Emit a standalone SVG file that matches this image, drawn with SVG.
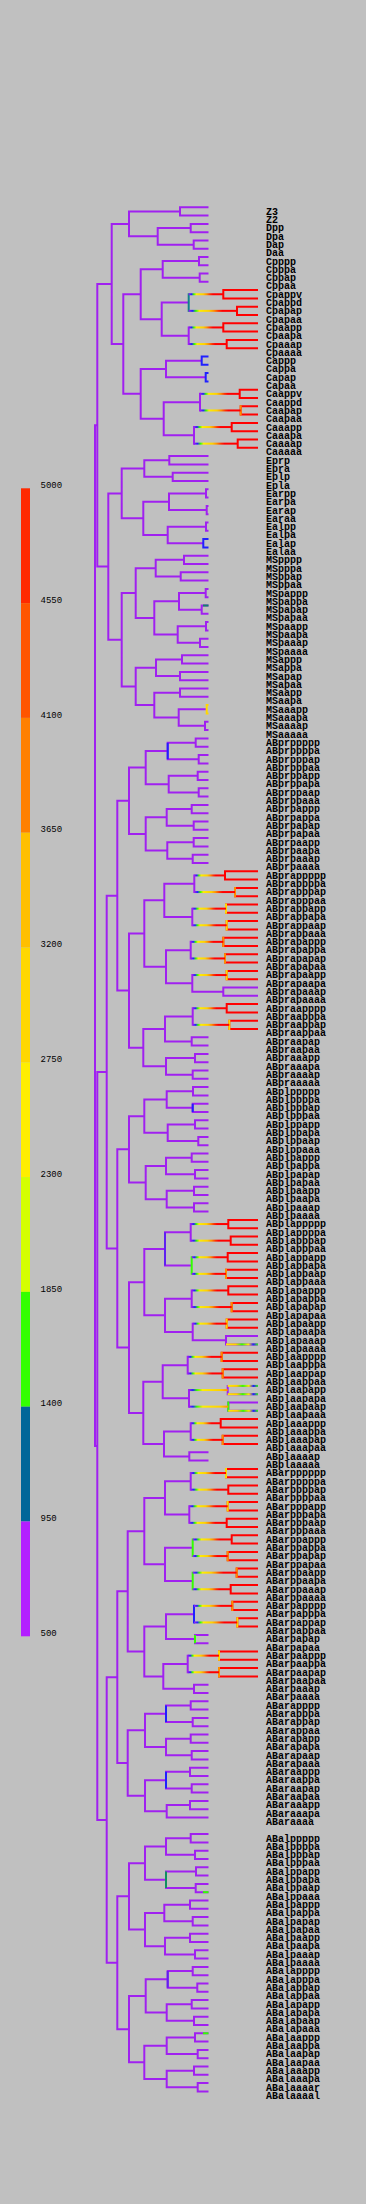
<svg xmlns="http://www.w3.org/2000/svg" width="366" height="2204" viewBox="0 0 366 2204">
<style>
.c{fill:none;stroke-width:2;stroke-linejoin:miter}
.p{stroke:#a020f0}.r{stroke:#ff0000}.o{stroke:#ff8c00}.y{stroke:#ffd700}.g{stroke:#33ff00}.b{stroke:#2020ff}.t{stroke:#10808c}.v{stroke:#6020f0}.tg{stroke:#109060}
.l{font-family:"Liberation Mono",monospace;font-size:10px;font-weight:bold;fill:#000}
.k{font-family:"Liberation Mono",monospace;font-size:9px;fill:#000}
</style>
<defs>
<linearGradient id="gA" x1="0" y1="0" x2="1" y2="0">
<stop offset="0" stop-color="#a020f0"/><stop offset="0.08" stop-color="#2020ff"/><stop offset="0.15" stop-color="#33ff00"/><stop offset="0.22" stop-color="#ffee00"/><stop offset="0.42" stop-color="#ffd000"/><stop offset="0.52" stop-color="#ff9000"/><stop offset="0.62" stop-color="#ff3000"/><stop offset="0.7" stop-color="#ff0000"/><stop offset="1" stop-color="#ff0000"/>
</linearGradient>
<linearGradient id="gE" x1="0" y1="0" x2="1" y2="0">
<stop offset="0" stop-color="#a020f0"/><stop offset="0.1" stop-color="#2020ff"/><stop offset="0.2" stop-color="#33ff00"/><stop offset="0.35" stop-color="#ffee00"/><stop offset="0.8" stop-color="#ffd000"/><stop offset="1" stop-color="#ff9000"/>
</linearGradient>
<linearGradient id="gC" x1="0" y1="0" x2="1" y2="0">
<stop offset="0" stop-color="#ffee00"/><stop offset="0.3" stop-color="#ffd000"/><stop offset="0.5" stop-color="#33ff00"/><stop offset="0.7" stop-color="#ffee00"/><stop offset="0.85" stop-color="#2020ff"/><stop offset="1" stop-color="#33ff00"/>
</linearGradient>
</defs>
<rect width="366" height="2204" fill="#c0c0c0"/>
<g id="legend">
<rect x="21" y="488.3" width="9" height="114.8" fill="#ff2a00"/>
<rect x="21" y="603.1" width="9" height="114.8" fill="#ff5500"/>
<rect x="21" y="717.9" width="9" height="114.8" fill="#ff8000"/>
<rect x="21" y="832.7" width="9" height="114.8" fill="#ffbf00"/>
<rect x="21" y="947.5" width="9" height="114.8" fill="#ffd700"/>
<rect x="21" y="1062.3" width="9" height="114.8" fill="#ffee00"/>
<rect x="21" y="1177.1" width="9" height="114.8" fill="#d4ff00"/>
<rect x="21" y="1291.9" width="9" height="114.8" fill="#33ff00"/>
<rect x="21" y="1406.7" width="9" height="114.8" fill="#006699"/>
<rect x="21" y="1521.5" width="9" height="114.8" fill="#b31fff"/>
<text class="k" x="40.5" y="487.9">5000</text>
<text class="k" x="40.5" y="602.7">4550</text>
<text class="k" x="40.5" y="717.5">4100</text>
<text class="k" x="40.5" y="832.3">3650</text>
<text class="k" x="40.5" y="947.1">3200</text>
<text class="k" x="40.5" y="1061.9">2750</text>
<text class="k" x="40.5" y="1176.7">2300</text>
<text class="k" x="40.5" y="1291.5">1850</text>
<text class="k" x="40.5" y="1406.3">1400</text>
<text class="k" x="40.5" y="1521.1">950</text>
<text class="k" x="40.5" y="1635.9">500</text>
</g>
<g id="connectors">
<g class="c p">
<path d="M208.5 207.3H180V215.6H208.5M208.5 223.9H190.7V232.2H208.5M208.5 240.5H193.7V248.8H208.5M190.7 228.05H157.7V244.65H193.7M180 211.45H129V236.35H157.7"/>
<path d="M208.5 256.9H199V265.2H208.5M208.5 273.5H199.7V281.8H208.5M199 261.05H162.7V277.65H199.7"/>
<path d="M188.7 326.45V345.05M188.7 302.55H161.7V335.75H188.7M162.7 269.35H140.7V319.15H161.7"/>
<path d="M201.7 360.65H166V377.25H205.7M200 392.85V411.45M194 426.05V444.65M200 402.15H163.7V435.35H194M166 368.95H140.7V418.75H163.7M140.7 294.25H123.3V393.85H140.7M129 223.9H111.7V344.05H123.3"/>
<path d="M208.5 456.1H169.3V464.4H208.5M208.5 472.7H172.7V481H208.5M169.3 460.25H144.3V476.85H172.7M208.5 489.3H206V497.6H208.5M208.5 505.9H206.7V514.2H208.5M206 493.45H169V510.05H206.7M208.5 522.5H206V530.8H208.5M206 526.65H167.7V543.25H203.3M169 501.75H143.3V534.95H167.7M144.3 468.55H121.7V518.35H143.3"/>
<path d="M208.5 555.7H184V564H208.5M208.5 572.3H180.7V580.6H208.5M184 559.85H155.7V576.45H180.7M208.5 588.9H205.7V597.2H208.5M208.5 605.5H201.7V613.8H208.5M205.7 593.05H179V609.65H201.7M208.5 622.1H206V630.4H208.5M208.5 638.7H200V647H208.5M206 626.25H177.7V642.85H200M179 601.35H154.3V634.55H177.7M155.7 568.15H135.7V617.95H154.3"/>
<path d="M208.5 655.3H182V663.6H208.5M208.5 671.9H180V680.2H208.5M182 659.45H156V676.05H180M208.5 688.5H180V696.8H208.5M208.5 721.7H205V730H208.5M206.7 709.25H178.7V725.85H205M180 692.65H154.3V717.55H178.7M156 667.75H135.7V705.1H154.3M135.7 593.05H121.7V686.43H135.7M121.7 493.45H108.3V639.74H121.7M111.7 284H97.3V566.6H108.3"/>
<path d="M208.5 738.5H195.7V746.8H208.5M208.5 755.1H198.7V763.4H208.5M195.7 742.65H167.7V759.25H198.7M208.5 771.7H197.7V780H208.5M208.5 788.3H198.7V796.6H208.5M197.7 775.85H168.7V792.45H198.7M167.7 750.95H145.7V784.15H168.7"/>
<path d="M208.5 804.9H191.7V813.2H208.5M208.5 821.5H193.7V829.8H208.5M191.7 809.05H166.7V825.65H193.7M208.5 838.1H193.7V846.4H208.5M208.5 854.7H192.7V863H208.5M193.7 842.25H167.3V858.85H192.7M166.7 817.35H145.7V850.55H167.3M145.7 767.55H129V833.95H145.7"/>
<path d="M194.3 874.45V893.05M192.3 907.65V926.25M194.3 883.75H164.3V916.95H192.3M190.7 940.85V959.45M192.3 974.05V992.65M192.3 991.65H223.3M258 987.5H223.3V995.8H258M190.7 950.15H166V983.35H192.3M164.3 900.35H144.3V966.75H166"/>
<path d="M192.7 1007.25V1025.85M208.5 1037.3H191.7V1045.6H208.5M192.7 1016.55H165V1041.45H191.7M208.5 1053.9H195V1062.2H208.5M208.5 1070.5H192.7V1078.8H208.5M195 1058.05H166V1074.65H192.7M165 1029H143.3V1066.35H166M144.3 933.55H129V1047.68H143.3M129 800.75H117.3V990.6H129"/>
<path d="M208.5 1087.1H193V1095.4H208.5M208.5 1103.7H192.7V1112H208.5M193 1091.25H166.7V1107.85H192.7M208.5 1120.3H195V1128.6H208.5M208.5 1136.9H198.3V1145.2H208.5M195 1124.45H167.7V1141.05H198.3M166.7 1099.55H144.3V1132.75H167.7"/>
<path d="M208.5 1153.5H191.7V1161.8H208.5M208.5 1170.1H195V1178.4H208.5M191.7 1157.65H166V1174.25H195M208.5 1186.7H194V1195H208.5M208.5 1203.3H194V1211.6H208.5M194 1190.85H166.7V1207.45H194M166 1165.95H145.7V1199.15H166.7M144.3 1116.15H129V1182.55H145.7"/>
<path d="M190.7 1223.05V1241.65M190.7 1232.35H165V1265.55H191.7M191.7 1289.45V1308.05M192.7 1322.65V1341.25M192.7 1340.25H226M258 1336.1H226V1344.4H258M191.7 1298.75H165V1331.95H192.7M165 1248.95H144.3V1315.35H165"/>
<path d="M187.7 1355.85V1374.45M189 1389.05V1407.65M258 1385.9H227.7V1394.2H258M258 1402.5H228.3V1410.8H258M187.7 1365.15H162.7V1398.35H189M190.7 1422.25V1440.85M208.5 1452.3H189.3V1460.6H208.5M190.7 1431.55H164V1456.45H189.3M162.7 1381.75H143.3V1444H164M144.3 1282.15H129V1412.88H143.3M129 1149.35H117.3V1347.5H129M117.3 895.68H106.7V1248.43H117.3"/>
<path d="M190.7 1472.05V1490.65M189.3 1505.25V1523.85M190.7 1481.35H165V1514.55H189.3M192.7 1547.75H165V1580.95H192.7M165 1497.95H144.3V1564.35H165"/>
<path d="M187.7 1654.65V1673.25M208.5 1634.9H195V1643.2H208.5M194 1614.15H166V1639.05H195M208.5 1684.7H194V1693H208.5M187.7 1663.95H163.3V1688.85H194M166 1626.6H144.3V1676.4H163.3M144.3 1531.15H127.7V1651.5H144.3"/>
<path d="M208.5 1701.3H190.7V1709.6H208.5M208.5 1717.9H192.7V1726.2H208.5M190.7 1705.45H166V1722.05H192.7M208.5 1734.5H190.7V1742.8H208.5M208.5 1751.1H191.7V1759.4H208.5M190.7 1738.65H166V1755.25H191.7M166 1713.75H145V1746.95H166"/>
<path d="M208.5 1767.7H190V1776H208.5M208.5 1784.3H191.7V1792.6H208.5M190 1771.85H166V1788.45H191.7M208.5 1800.9H190V1809.2H208.5M190 1805.05H166.7V1817.5H208.5M166 1780.15H145V1811.28H166.7M145 1730.35H127.7V1795.71H145M127.7 1591.33H117.3V1763.03H127.7"/>
<path d="M208.5 1834.1H190.7V1842.4H208.5M208.5 1850.7H195V1859H208.5M190.7 1838.25H166V1854.85H195M208.5 1867.3H196V1875.6H208.5M208.5 1883.9H195.7V1892.2H208.5M196 1871.45H166V1888.05H195.7M166 1846.55H145V1879.75H166"/>
<path d="M208.5 1900.5H190V1908.8H208.5M208.5 1917.1H192.7V1925.4H208.5M190 1904.65H164.3V1921.25H192.7M208.5 1933.7H190V1942H208.5M208.5 1950.3H195V1958.6H208.5M190 1937.85H165V1954.45H195M164.3 1912.95H145V1946.15H165M145 1863.15H129V1929.55H145"/>
<path d="M208.5 1966.9H192.7V1975.2H208.5M208.5 1983.5H197.3V1991.8H208.5M192.7 1971.05H167.7V1987.65H197.3M208.5 2000.1H191.7V2008.4H208.5M208.5 2016.7H194V2025H208.5M191.7 2004.25H166.7V2020.85H194M167.7 1979.35H145.7V2012.55H166.7"/>
<path d="M208.5 2033.3H195V2041.6H208.5M208.5 2049.9H197.7V2058.2H208.5M195 2037.45H166.7V2054.05H197.7M208.5 2066.5H194V2074.8H208.5M208.5 2083.1H197.7V2091.4H208.5M194 2070.65H166.7V2087.25H197.7M166.7 2045.75H144.3V2078.95H166.7M145.7 1995.95H129V2062.35H144.3M129 1896.35H117.3V2029.15H129"/>
<path d="M117.3 1677.18H106.7V1962.75H117.3M106.7 1072.06H97.3V1819.97H106.7M97.3 425.3H95V1446H97.3"/>
</g>
<g class="c r">
<path d="M258 290.1H223.3V298.4H258M258 306.7H237V315H258M258 323.3H223.3V331.6H258M258 339.9H226.7V348.2H258"/>
<path d="M258 389.7H239.7V398H258M258 406.3H240.7V414.6H258M258 422.9H231.7V431.2H258M258 439.5H237.7V447.8H258"/>
<path d="M258 871.3H225V879.6H258M258 887.9H235V896.2H258M258 904.5H226V912.8H258M258 921.1H226.7V929.4H258M258 937.7H223.3V946H258M258 954.3H225V962.6H258M258 970.9H226.7V979.2H258M258 1004.1H226.7V1012.4H258M258 1020.7H229.3V1029H258"/>
<path d="M258 1219.9H228.3V1228.2H258M258 1236.5H230.7V1244.8H258M258 1253.1H227.7V1261.4H258M258 1269.7H226V1278H258M258 1286.3H228.3V1294.6H258M258 1302.9H231.7V1311.2H258M258 1319.5H226.7V1327.8H258M258 1352.7H221.7V1361H258M258 1369.3H222.7V1377.6H258M258 1419.1H220.7V1427.4H258M258 1435.7H222.7V1444H258"/>
<path d="M258 1468.9H226V1477.2H258M258 1485.5H228.3V1493.8H258M258 1502.1H227.7V1510.4H258M258 1518.7H226.7V1527H258M258 1535.3H231.7V1543.6H258M258 1551.9H227.7V1560.2H258M258 1568.5H236.7V1576.8H258M258 1585.1H230.7V1593.4H258M258 1601.7H232.3V1610H258M258 1618.3H237.3V1626.6H258M258 1651.5H219V1659.8H258M258 1668.1H219V1676.4H258"/>
</g>
<g class="c o">
<path d="M240.7 405.3V415.6M235 886.9V897.2M223.3 936.7V947M225 953.3V963.6M226 1268.7V1279M231.7 1301.9V1312.2M221.7 1351.7V1362M222.7 1368.3V1378.6M222.7 1434.7V1445M227.7 1550.9V1561.2M236.7 1567.5V1577.8M232.3 1600.7V1611M219 1667.1V1677.4"/>
</g>
<g class="c y">
<path d="M226 903.5V913.8M226.7 920.1V930.4M226.7 969.9V980.2M229.3 1019.7V1030M226.7 1318.5V1328.8M226 1467.9V1478.2M227.7 1501.1V1511.4M237.3 1617.3V1627.6M219 1650.5V1660.8M208.5 705.1H206.7V713.4H208.5"/>
</g>
<g class="c b">
<path d="M208.5 356.5H201.7V364.8H208.5M208.5 373.1H205.7V381.4H208.5M208.5 539.1H203.3V547.4H208.5M167.7 742.65V759.25M192.7 1103.7V1112M194 1604.85V1623.45M166 1705.45V1722.05M166 1771.85V1788.45"/>
</g>
<path class="c t" d="M188.7 293.25V311.85"/>
<path class="c g" d="M191.7 1256.25V1274.85M228.3 1401.5V1411.8M192.7 1538.45V1557.05M192.7 1571.65V1590.25M195 1634.9V1643.2"/>
<path class="c v" d="M165 1232.35V1265.55M167.7 1971.05V1987.65"/>
<path class="c tg" d="M166 1871.45V1888.05"/>
<g id="grad-segments">
<rect x="188.7" y="293.25" width="34.6" height="2" fill="url(#gA)"/>
<rect x="188.7" y="309.85" width="48.3" height="2" fill="url(#gA)"/>
<rect x="188.7" y="326.45" width="34.6" height="2" fill="url(#gA)"/>
<rect x="188.7" y="343.05" width="38" height="2" fill="url(#gA)"/>
<rect x="200" y="392.85" width="39.7" height="2" fill="url(#gA)"/>
<rect x="200" y="409.45" width="40.7" height="2" fill="url(#gA)"/>
<rect x="194" y="426.05" width="37.7" height="2" fill="url(#gA)"/>
<rect x="194" y="442.65" width="43.7" height="2" fill="url(#gA)"/>
<rect x="194.3" y="874.45" width="30.7" height="2" fill="url(#gA)"/>
<rect x="194.3" y="891.05" width="40.7" height="2" fill="url(#gA)"/>
<rect x="192.3" y="907.65" width="33.7" height="2" fill="url(#gA)"/>
<rect x="192.3" y="924.25" width="34.4" height="2" fill="url(#gA)"/>
<rect x="190.7" y="940.85" width="32.6" height="2" fill="url(#gA)"/>
<rect x="190.7" y="957.45" width="34.3" height="2" fill="url(#gA)"/>
<rect x="192.3" y="974.05" width="34.4" height="2" fill="url(#gA)"/>
<rect x="192.7" y="1007.25" width="34" height="2" fill="url(#gA)"/>
<rect x="192.7" y="1023.85" width="36.6" height="2" fill="url(#gA)"/>
<rect x="190.7" y="1223.05" width="37.6" height="2" fill="url(#gA)"/>
<rect x="190.7" y="1239.65" width="40" height="2" fill="url(#gA)"/>
<rect x="191.7" y="1256.25" width="36" height="2" fill="url(#gA)"/>
<rect x="191.7" y="1272.85" width="34.3" height="2" fill="url(#gA)"/>
<rect x="191.7" y="1289.45" width="36.6" height="2" fill="url(#gA)"/>
<rect x="191.7" y="1306.05" width="40" height="2" fill="url(#gA)"/>
<rect x="192.7" y="1322.65" width="34" height="2" fill="url(#gA)"/>
<rect x="226" y="1343.4" width="32" height="2" fill="url(#gC)"/>
<rect x="187.7" y="1355.85" width="34" height="2" fill="url(#gA)"/>
<rect x="187.7" y="1372.45" width="35" height="2" fill="url(#gA)"/>
<rect x="189" y="1389.05" width="38.7" height="2" fill="url(#gE)"/>
<rect x="189" y="1405.65" width="39.3" height="2" fill="url(#gE)"/>
<rect x="227.7" y="1384.9" width="30.3" height="2" fill="url(#gC)"/>
<rect x="227.7" y="1393.2" width="30.3" height="2" fill="url(#gC)"/>
<rect x="228.3" y="1409.8" width="29.7" height="2" fill="url(#gC)"/>
<rect x="190.7" y="1422.25" width="30" height="2" fill="url(#gA)"/>
<rect x="190.7" y="1438.85" width="32" height="2" fill="url(#gA)"/>
<rect x="190.7" y="1472.05" width="35.3" height="2" fill="url(#gA)"/>
<rect x="190.7" y="1488.65" width="37.6" height="2" fill="url(#gA)"/>
<rect x="189.3" y="1505.25" width="38.4" height="2" fill="url(#gA)"/>
<rect x="189.3" y="1521.85" width="37.4" height="2" fill="url(#gA)"/>
<rect x="192.7" y="1538.45" width="39" height="2" fill="url(#gA)"/>
<rect x="192.7" y="1555.05" width="35" height="2" fill="url(#gA)"/>
<rect x="192.7" y="1571.65" width="44" height="2" fill="url(#gA)"/>
<rect x="192.7" y="1588.25" width="38" height="2" fill="url(#gA)"/>
<rect x="194" y="1604.85" width="38.3" height="2" fill="url(#gA)"/>
<rect x="194" y="1621.45" width="43.3" height="2" fill="url(#gA)"/>
<rect x="187.7" y="1654.65" width="31.3" height="2" fill="url(#gA)"/>
<rect x="187.7" y="1671.25" width="31.3" height="2" fill="url(#gA)"/>
<rect x="203" y="604.5" width="5.5" height="2" fill="#10806c"/>
<rect x="203" y="1891.2" width="5.5" height="2" fill="#33ff00"/>
<rect x="203" y="2032.3" width="5.5" height="2" fill="#33ff00"/>
</g>
</g>
<g id="labels" class="l">
<g id="n-Z3"><text x="266" y="214.7">Z3</text></g>
<g id="n-Z2"><text x="266" y="223">Z2</text></g>
<g id="n-Dpp"><text x="266" y="231.3">Dpp</text></g>
<g id="n-Dpa"><text x="266" y="239.6">Dpa</text></g>
<g id="n-Dap"><text x="266" y="247.9">Dap</text></g>
<g id="n-Daa"><text x="266" y="256.2">Daa</text></g>
<g id="n-Cpppp"><text x="266" y="264.5">Cpppp</text></g>
<g id="n-Cpppa"><text x="266" y="272.8">Cpppa</text></g>
<g id="n-Cppap"><text x="266" y="281.1">Cppap</text></g>
<g id="n-Cppaa"><text x="266" y="289.4">Cppaa</text></g>
<g id="n-Cpappv"><text x="266" y="297.7">Cpappv</text></g>
<g id="n-Cpappd"><text x="266" y="306">Cpappd</text></g>
<g id="n-Cpapap"><text x="266" y="314.3">Cpapap</text></g>
<g id="n-Cpapaa"><text x="266" y="322.6">Cpapaa</text></g>
<g id="n-Cpaapp"><text x="266" y="330.9">Cpaapp</text></g>
<g id="n-Cpaapa"><text x="266" y="339.2">Cpaapa</text></g>
<g id="n-Cpaaap"><text x="266" y="347.5">Cpaaap</text></g>
<g id="n-Cpaaaa"><text x="266" y="355.8">Cpaaaa</text></g>
<g id="n-Cappp"><text x="266" y="364.1">Cappp</text></g>
<g id="n-Cappa"><text x="266" y="372.4">Cappa</text></g>
<g id="n-Capap"><text x="266" y="380.7">Capap</text></g>
<g id="n-Capaa"><text x="266" y="389">Capaa</text></g>
<g id="n-Caappv"><text x="266" y="397.3">Caappv</text></g>
<g id="n-Caappd"><text x="266" y="405.6">Caappd</text></g>
<g id="n-Caapap"><text x="266" y="413.9">Caapap</text></g>
<g id="n-Caapaa"><text x="266" y="422.2">Caapaa</text></g>
<g id="n-Caaapp"><text x="266" y="430.5">Caaapp</text></g>
<g id="n-Caaapa"><text x="266" y="438.8">Caaapa</text></g>
<g id="n-Caaaap"><text x="266" y="447.1">Caaaap</text></g>
<g id="n-Caaaaa"><text x="266" y="455.4">Caaaaa</text></g>
<g id="n-Eprp"><text x="266" y="463.7">Eprp</text></g>
<g id="n-Epra"><text x="266" y="472">Epra</text></g>
<g id="n-Eplp"><text x="266" y="480.3">Eplp</text></g>
<g id="n-Epla"><text x="266" y="488.6">Epla</text></g>
<g id="n-Earpp"><text x="266" y="496.9">Earpp</text></g>
<g id="n-Earpa"><text x="266" y="505.2">Earpa</text></g>
<g id="n-Earap"><text x="266" y="513.5">Earap</text></g>
<g id="n-Earaa"><text x="266" y="521.8">Earaa</text></g>
<g id="n-Ealpp"><text x="266" y="530.1">Ealpp</text></g>
<g id="n-Ealpa"><text x="266" y="538.4">Ealpa</text></g>
<g id="n-Ealap"><text x="266" y="546.7">Ealap</text></g>
<g id="n-Ealaa"><text x="266" y="555">Ealaa</text></g>
<g id="n-MSpppp"><text x="266" y="563.3">MSpppp</text></g>
<g id="n-MSpppa"><text x="266" y="571.6">MSpppa</text></g>
<g id="n-MSppap"><text x="266" y="579.9">MSppap</text></g>
<g id="n-MSppaa"><text x="266" y="588.2">MSppaa</text></g>
<g id="n-MSpappp"><text x="266" y="596.5">MSpappp</text></g>
<g id="n-MSpappa"><text x="266" y="604.8">MSpappa</text></g>
<g id="n-MSpapap"><text x="266" y="613.1">MSpapap</text></g>
<g id="n-MSpapaa"><text x="266" y="621.4">MSpapaa</text></g>
<g id="n-MSpaapp"><text x="266" y="629.7">MSpaapp</text></g>
<g id="n-MSpaapa"><text x="266" y="638">MSpaapa</text></g>
<g id="n-MSpaaap"><text x="266" y="646.3">MSpaaap</text></g>
<g id="n-MSpaaaa"><text x="266" y="654.6">MSpaaaa</text></g>
<g id="n-MSappp"><text x="266" y="662.9">MSappp</text></g>
<g id="n-MSappa"><text x="266" y="671.2">MSappa</text></g>
<g id="n-MSapap"><text x="266" y="679.5">MSapap</text></g>
<g id="n-MSapaa"><text x="266" y="687.8">MSapaa</text></g>
<g id="n-MSaapp"><text x="266" y="696.1">MSaapp</text></g>
<g id="n-MSaapa"><text x="266" y="704.4">MSaapa</text></g>
<g id="n-MSaaapp"><text x="266" y="712.7">MSaaapp</text></g>
<g id="n-MSaaapa"><text x="266" y="721">MSaaapa</text></g>
<g id="n-MSaaaap"><text x="266" y="729.3">MSaaaap</text></g>
<g id="n-MSaaaaa"><text x="266" y="737.6">MSaaaaa</text></g>
<g id="n-ABprppppp"><text x="266" y="745.9">ABprppppp</text></g>
<g id="n-ABprppppa"><text x="266" y="754.2">ABprppppa</text></g>
<g id="n-ABprpppap"><text x="266" y="762.5">ABprpppap</text></g>
<g id="n-ABprpppaa"><text x="266" y="770.8">ABprpppaa</text></g>
<g id="n-ABprppapp"><text x="266" y="779.1">ABprppapp</text></g>
<g id="n-ABprppapa"><text x="266" y="787.4">ABprppapa</text></g>
<g id="n-ABprppaap"><text x="266" y="795.7">ABprppaap</text></g>
<g id="n-ABprppaaa"><text x="266" y="804">ABprppaaa</text></g>
<g id="n-ABprpappp"><text x="266" y="812.3">ABprpappp</text></g>
<g id="n-ABprpappa"><text x="266" y="820.6">ABprpappa</text></g>
<g id="n-ABprpapap"><text x="266" y="828.9">ABprpapap</text></g>
<g id="n-ABprpapaa"><text x="266" y="837.2">ABprpapaa</text></g>
<g id="n-ABprpaapp"><text x="266" y="845.5">ABprpaapp</text></g>
<g id="n-ABprpaapa"><text x="266" y="853.8">ABprpaapa</text></g>
<g id="n-ABprpaaap"><text x="266" y="862.1">ABprpaaap</text></g>
<g id="n-ABprpaaaa"><text x="266" y="870.4">ABprpaaaa</text></g>
<g id="n-ABprappppp"><text x="266" y="878.7">ABprappppp</text></g>
<g id="n-ABprappppa"><text x="266" y="887">ABprappppa</text></g>
<g id="n-ABprapppap"><text x="266" y="895.3">ABprapppap</text></g>
<g id="n-ABprapppaa"><text x="266" y="903.6">ABprapppaa</text></g>
<g id="n-ABprappapp"><text x="266" y="911.9">ABprappapp</text></g>
<g id="n-ABprappapa"><text x="266" y="920.2">ABprappapa</text></g>
<g id="n-ABprappaap"><text x="266" y="928.5">ABprappaap</text></g>
<g id="n-ABprappaaa"><text x="266" y="936.8">ABprappaaa</text></g>
<g id="n-ABprapappp"><text x="266" y="945.1">ABprapappp</text></g>
<g id="n-ABprapappa"><text x="266" y="953.4">ABprapappa</text></g>
<g id="n-ABprapapap"><text x="266" y="961.7">ABprapapap</text></g>
<g id="n-ABprapapaa"><text x="266" y="970">ABprapapaa</text></g>
<g id="n-ABprapaapp"><text x="266" y="978.3">ABprapaapp</text></g>
<g id="n-ABprapaapa"><text x="266" y="986.6">ABprapaapa</text></g>
<g id="n-ABprapaaap"><text x="266" y="994.9">ABprapaaap</text></g>
<g id="n-ABprapaaaa"><text x="266" y="1003.2">ABprapaaaa</text></g>
<g id="n-ABpraapppp"><text x="266" y="1011.5">ABpraapppp</text></g>
<g id="n-ABpraapppa"><text x="266" y="1019.8">ABpraapppa</text></g>
<g id="n-ABpraappap"><text x="266" y="1028.1">ABpraappap</text></g>
<g id="n-ABpraappaa"><text x="266" y="1036.4">ABpraappaa</text></g>
<g id="n-ABpraapap"><text x="266" y="1044.7">ABpraapap</text></g>
<g id="n-ABpraapaa"><text x="266" y="1053">ABpraapaa</text></g>
<g id="n-ABpraaapp"><text x="266" y="1061.3">ABpraaapp</text></g>
<g id="n-ABpraaapa"><text x="266" y="1069.6">ABpraaapa</text></g>
<g id="n-ABpraaaap"><text x="266" y="1077.9">ABpraaaap</text></g>
<g id="n-ABpraaaaa"><text x="266" y="1086.2">ABpraaaaa</text></g>
<g id="n-ABplppppp"><text x="266" y="1094.5">ABplppppp</text></g>
<g id="n-ABplppppa"><text x="266" y="1102.8">ABplppppa</text></g>
<g id="n-ABplpppap"><text x="266" y="1111.1">ABplpppap</text></g>
<g id="n-ABplpppaa"><text x="266" y="1119.4">ABplpppaa</text></g>
<g id="n-ABplppapp"><text x="266" y="1127.7">ABplppapp</text></g>
<g id="n-ABplppapa"><text x="266" y="1136">ABplppapa</text></g>
<g id="n-ABplppaap"><text x="266" y="1144.3">ABplppaap</text></g>
<g id="n-ABplppaaa"><text x="266" y="1152.6">ABplppaaa</text></g>
<g id="n-ABplpappp"><text x="266" y="1160.9">ABplpappp</text></g>
<g id="n-ABplpappa"><text x="266" y="1169.2">ABplpappa</text></g>
<g id="n-ABplpapap"><text x="266" y="1177.5">ABplpapap</text></g>
<g id="n-ABplpapaa"><text x="266" y="1185.8">ABplpapaa</text></g>
<g id="n-ABplpaapp"><text x="266" y="1194.1">ABplpaapp</text></g>
<g id="n-ABplpaapa"><text x="266" y="1202.4">ABplpaapa</text></g>
<g id="n-ABplpaaap"><text x="266" y="1210.7">ABplpaaap</text></g>
<g id="n-ABplpaaaa"><text x="266" y="1219">ABplpaaaa</text></g>
<g id="n-ABplappppp"><text x="266" y="1227.3">ABplappppp</text></g>
<g id="n-ABplappppa"><text x="266" y="1235.6">ABplappppa</text></g>
<g id="n-ABplapppap"><text x="266" y="1243.9">ABplapppap</text></g>
<g id="n-ABplapppaa"><text x="266" y="1252.2">ABplapppaa</text></g>
<g id="n-ABplappapp"><text x="266" y="1260.5">ABplappapp</text></g>
<g id="n-ABplappapa"><text x="266" y="1268.8">ABplappapa</text></g>
<g id="n-ABplappaap"><text x="266" y="1277.1">ABplappaap</text></g>
<g id="n-ABplappaaa"><text x="266" y="1285.4">ABplappaaa</text></g>
<g id="n-ABplapappp"><text x="266" y="1293.7">ABplapappp</text></g>
<g id="n-ABplapappa"><text x="266" y="1302">ABplapappa</text></g>
<g id="n-ABplapapap"><text x="266" y="1310.3">ABplapapap</text></g>
<g id="n-ABplapapaa"><text x="266" y="1318.6">ABplapapaa</text></g>
<g id="n-ABplapaapp"><text x="266" y="1326.9">ABplapaapp</text></g>
<g id="n-ABplapaapa"><text x="266" y="1335.2">ABplapaapa</text></g>
<g id="n-ABplapaaap"><text x="266" y="1343.5">ABplapaaap</text></g>
<g id="n-ABplapaaaa"><text x="266" y="1351.8">ABplapaaaa</text></g>
<g id="n-ABplaapppp"><text x="266" y="1360.1">ABplaapppp</text></g>
<g id="n-ABplaapppa"><text x="266" y="1368.4">ABplaapppa</text></g>
<g id="n-ABplaappap"><text x="266" y="1376.7">ABplaappap</text></g>
<g id="n-ABplaappaa"><text x="266" y="1385">ABplaappaa</text></g>
<g id="n-ABplaapapp"><text x="266" y="1393.3">ABplaapapp</text></g>
<g id="n-ABplaapapa"><text x="266" y="1401.6">ABplaapapa</text></g>
<g id="n-ABplaapaap"><text x="266" y="1409.9">ABplaapaap</text></g>
<g id="n-ABplaapaaa"><text x="266" y="1418.2">ABplaapaaa</text></g>
<g id="n-ABplaaappp"><text x="266" y="1426.5">ABplaaappp</text></g>
<g id="n-ABplaaappa"><text x="266" y="1434.8">ABplaaappa</text></g>
<g id="n-ABplaaapap"><text x="266" y="1443.1">ABplaaapap</text></g>
<g id="n-ABplaaapaa"><text x="266" y="1451.4">ABplaaapaa</text></g>
<g id="n-ABplaaaap"><text x="266" y="1459.7">ABplaaaap</text></g>
<g id="n-ABplaaaaa"><text x="266" y="1468">ABplaaaaa</text></g>
<g id="n-ABarpppppp"><text x="266" y="1476.3">ABarpppppp</text></g>
<g id="n-ABarpppppa"><text x="266" y="1484.6">ABarpppppa</text></g>
<g id="n-ABarppppap"><text x="266" y="1492.9">ABarppppap</text></g>
<g id="n-ABarppppaa"><text x="266" y="1501.2">ABarppppaa</text></g>
<g id="n-ABarpppapp"><text x="266" y="1509.5">ABarpppapp</text></g>
<g id="n-ABarpppapa"><text x="266" y="1517.8">ABarpppapa</text></g>
<g id="n-ABarpppaap"><text x="266" y="1526.1">ABarpppaap</text></g>
<g id="n-ABarpppaaa"><text x="266" y="1534.4">ABarpppaaa</text></g>
<g id="n-ABarppappp"><text x="266" y="1542.7">ABarppappp</text></g>
<g id="n-ABarppappa"><text x="266" y="1551">ABarppappa</text></g>
<g id="n-ABarppapap"><text x="266" y="1559.3">ABarppapap</text></g>
<g id="n-ABarppapaa"><text x="266" y="1567.6">ABarppapaa</text></g>
<g id="n-ABarppaapp"><text x="266" y="1575.9">ABarppaapp</text></g>
<g id="n-ABarppaapa"><text x="266" y="1584.2">ABarppaapa</text></g>
<g id="n-ABarppaaap"><text x="266" y="1592.5">ABarppaaap</text></g>
<g id="n-ABarppaaaa"><text x="266" y="1600.8">ABarppaaaa</text></g>
<g id="n-ABarpapppp"><text x="266" y="1609.1">ABarpapppp</text></g>
<g id="n-ABarpapppa"><text x="266" y="1617.4">ABarpapppa</text></g>
<g id="n-ABarpappap"><text x="266" y="1625.7">ABarpappap</text></g>
<g id="n-ABarpappaa"><text x="266" y="1634">ABarpappaa</text></g>
<g id="n-ABarpapap"><text x="266" y="1642.3">ABarpapap</text></g>
<g id="n-ABarpapaa"><text x="266" y="1650.6">ABarpapaa</text></g>
<g id="n-ABarpaappp"><text x="266" y="1658.9">ABarpaappp</text></g>
<g id="n-ABarpaappa"><text x="266" y="1667.2">ABarpaappa</text></g>
<g id="n-ABarpaapap"><text x="266" y="1675.5">ABarpaapap</text></g>
<g id="n-ABarpaapaa"><text x="266" y="1683.8">ABarpaapaa</text></g>
<g id="n-ABarpaaap"><text x="266" y="1692.1">ABarpaaap</text></g>
<g id="n-ABarpaaaa"><text x="266" y="1700.4">ABarpaaaa</text></g>
<g id="n-ABarapppp"><text x="266" y="1708.7">ABarapppp</text></g>
<g id="n-ABarapppa"><text x="266" y="1717">ABarapppa</text></g>
<g id="n-ABarappap"><text x="266" y="1725.3">ABarappap</text></g>
<g id="n-ABarappaa"><text x="266" y="1733.6">ABarappaa</text></g>
<g id="n-ABarapapp"><text x="266" y="1741.9">ABarapapp</text></g>
<g id="n-ABarapapa"><text x="266" y="1750.2">ABarapapa</text></g>
<g id="n-ABarapaap"><text x="266" y="1758.5">ABarapaap</text></g>
<g id="n-ABarapaaa"><text x="266" y="1766.8">ABarapaaa</text></g>
<g id="n-ABaraappp"><text x="266" y="1775.1">ABaraappp</text></g>
<g id="n-ABaraappa"><text x="266" y="1783.4">ABaraappa</text></g>
<g id="n-ABaraapap"><text x="266" y="1791.7">ABaraapap</text></g>
<g id="n-ABaraapaa"><text x="266" y="1800">ABaraapaa</text></g>
<g id="n-ABaraaapp"><text x="266" y="1808.3">ABaraaapp</text></g>
<g id="n-ABaraaapa"><text x="266" y="1816.6">ABaraaapa</text></g>
<g id="n-ABaraaaa"><text x="266" y="1824.9">ABaraaaa</text></g>
<g id="n-ABalppppp"><text x="266" y="1841.5">ABalppppp</text></g>
<g id="n-ABalppppa"><text x="266" y="1849.8">ABalppppa</text></g>
<g id="n-ABalpppap"><text x="266" y="1858.1">ABalpppap</text></g>
<g id="n-ABalpppaa"><text x="266" y="1866.4">ABalpppaa</text></g>
<g id="n-ABalppapp"><text x="266" y="1874.7">ABalppapp</text></g>
<g id="n-ABalppapa"><text x="266" y="1883">ABalppapa</text></g>
<g id="n-ABalppaap"><text x="266" y="1891.3">ABalppaap</text></g>
<g id="n-ABalppaaa"><text x="266" y="1899.6">ABalppaaa</text></g>
<g id="n-ABalpappp"><text x="266" y="1907.9">ABalpappp</text></g>
<g id="n-ABalpappa"><text x="266" y="1916.2">ABalpappa</text></g>
<g id="n-ABalpapap"><text x="266" y="1924.5">ABalpapap</text></g>
<g id="n-ABalpapaa"><text x="266" y="1932.8">ABalpapaa</text></g>
<g id="n-ABalpaapp"><text x="266" y="1941.1">ABalpaapp</text></g>
<g id="n-ABalpaapa"><text x="266" y="1949.4">ABalpaapa</text></g>
<g id="n-ABalpaaap"><text x="266" y="1957.7">ABalpaaap</text></g>
<g id="n-ABalpaaaa"><text x="266" y="1966">ABalpaaaa</text></g>
<g id="n-ABalapppp"><text x="266" y="1974.3">ABalapppp</text></g>
<g id="n-ABalapppa"><text x="266" y="1982.6">ABalapppa</text></g>
<g id="n-ABalappap"><text x="266" y="1990.9">ABalappap</text></g>
<g id="n-ABalappaa"><text x="266" y="1999.2">ABalappaa</text></g>
<g id="n-ABalapapp"><text x="266" y="2007.5">ABalapapp</text></g>
<g id="n-ABalapapa"><text x="266" y="2015.8">ABalapapa</text></g>
<g id="n-ABalapaap"><text x="266" y="2024.1">ABalapaap</text></g>
<g id="n-ABalapaaa"><text x="266" y="2032.4">ABalapaaa</text></g>
<g id="n-ABalaappp"><text x="266" y="2040.7">ABalaappp</text></g>
<g id="n-ABalaappa"><text x="266" y="2049">ABalaappa</text></g>
<g id="n-ABalaapap"><text x="266" y="2057.3">ABalaapap</text></g>
<g id="n-ABalaapaa"><text x="266" y="2065.6">ABalaapaa</text></g>
<g id="n-ABalaaapp"><text x="266" y="2073.9">ABalaaapp</text></g>
<g id="n-ABalaaapa"><text x="266" y="2082.2">ABalaaapa</text></g>
<g id="n-ABalaaaar"><text x="266" y="2090.5">ABalaaaar</text></g>
<g id="n-ABalaaaal"><text x="266" y="2098.8">ABalaaaal</text></g>
</g>
</svg>
